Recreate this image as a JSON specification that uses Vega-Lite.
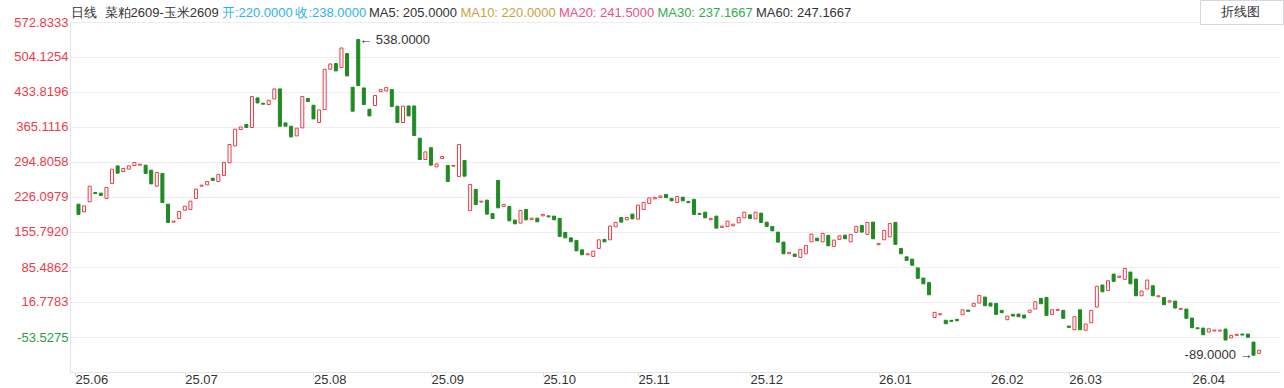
{
  "$schema": "https://vega.github.io/schema/vega-lite/v6.json",
  "width": 1210,
  "height": 350,
  "autosize": {"type": "none"},
  "padding": {"left": 70, "top": 22, "right": 4, "bottom": 16},
  "background": "#ffffff",
  "config": {"font": "Liberation Sans", "view": {"stroke": null}},
  "datasets": {
    "k": [
      {"i":0,"o":211.0,"c":190.6},{"i":1,"o":195.7,"c":207.6},{"i":2,"o":215.6,"c":246.7},{"i":3,"o":234.2,"c":232.3},{"i":4,"o":232.9,"c":228.3},
      {"i":5,"o":222.3,"c":244.2},{"i":6,"o":252.1,"c":280.5},{"i":7,"o":287.0,"c":272.5},{"i":8,"o":275.9,"c":281.9},{"i":9,"o":280.5,"c":287.0},
      {"i":10,"o":287.8,"c":293.8},{"i":11,"o":288.4,"c":290.4},{"i":12,"o":288.4,"c":272.0},{"i":13,"o":278.5,"c":251.3},{"i":14,"o":246.7,"c":273.9},
      {"i":15,"o":272.0,"c":214.4},{"i":16,"o":211.0,"c":174.7},{"i":17,"o":175.3,"c":177.3},{"i":18,"o":182.6,"c":196.5},{"i":19,"o":199.1,"c":207.1},
      {"i":20,"o":200.5,"c":217.0},{"i":21,"o":222.3,"c":240.8},{"i":22,"o":246.7,"c":248.7},{"i":23,"o":249.3,"c":256.1},{"i":24,"o":262.6,"c":258.1},
      {"i":25,"o":256.1,"c":270.0},{"i":26,"o":268.0,"c":293.8},{"i":27,"o":293.0,"c":329.5},{"i":28,"o":326.7,"c":359.9},{"i":29,"o":359.3,"c":364.4},
      {"i":30,"o":369.2,"c":363.3},{"i":31,"o":363.3,"c":424.8},{"i":32,"o":422.0,"c":412.1},{"i":33,"o":411.5,"c":409.5},{"i":34,"o":408.9,"c":417.4},
      {"i":35,"o":420.0,"c":439.9},{"i":36,"o":439.9,"c":365.8},{"i":37,"o":372.4,"c":365.8},{"i":38,"o":365.8,"c":344.6},{"i":39,"o":346.6,"c":361.9},
      {"i":40,"o":362.5,"c":424.8},{"i":41,"o":420.8,"c":414.9},{"i":42,"o":407.5,"c":380.3},{"i":43,"o":373.2,"c":398.2},{"i":44,"o":399.0,"c":479.0},
      {"i":45,"o":479.0,"c":489.5},{"i":46,"o":490.3,"c":475.6},{"i":47,"o":482.3,"c":521.2},{"i":48,"o":510.1,"c":465.7},{"i":49,"o":443.2,"c":395.6},
      {"i":50,"o":538.0,"c":446.6},{"i":51,"o":441.8,"c":408.9},{"i":52,"o":399.6,"c":386.3},{"i":53,"o":406.9,"c":426.8},{"i":54,"o":434.7,"c":438.7},
      {"i":55,"o":435.9,"c":442.6},{"i":56,"o":438.7,"c":404.9},{"i":57,"o":405.5,"c":373.2},{"i":58,"o":373.2,"c":405.5},{"i":59,"o":406.1,"c":386.3},
      {"i":60,"o":406.1,"c":347.4},{"i":61,"o":342.0,"c":299.7},{"i":62,"o":299.7,"c":314.8},{"i":63,"o":323.2,"c":288.4},{"i":64,"o":285.1,"c":291.0},
      {"i":65,"o":301.7,"c":305.7},{"i":66,"o":287.8,"c":256.1},{"i":67,"o":286.4,"c":287.8},{"i":68,"o":266.0,"c":329.5},{"i":69,"o":297.8,"c":266.6},
      {"i":70,"o":198.1,"c":250.1},{"i":71,"o":240.2,"c":210.0},{"i":72,"o":215.0,"c":217.0},{"i":73,"o":219.0,"c":191.2},{"i":74,"o":192.2,"c":182.6},
      {"i":75,"o":258.3,"c":203.7},{"i":76,"o":206.5,"c":210.4},{"i":77,"o":206.5,"c":177.9},{"i":78,"o":179.3,"c":171.9},{"i":79,"o":173.3,"c":198.5},
      {"i":80,"o":200.5,"c":179.9},{"i":81,"o":180.7,"c":183.2},{"i":82,"o":183.2,"c":175.9},{"i":83,"o":187.8,"c":190.6},{"i":84,"o":187.8,"c":185.8},
      {"i":85,"o":187.2,"c":179.9},{"i":86,"o":182.6,"c":146.9},{"i":87,"o":154.9,"c":144.1},{"i":88,"o":144.1,"c":136.2},{"i":89,"o":139.0,"c":118.3},
      {"i":90,"o":120.3,"c":110.4},{"i":91,"o":110.4,"c":112.4},{"i":92,"o":107.2,"c":117.7},{"i":93,"o":123.1,"c":140.2},{"i":94,"o":141.0,"c":136.2},
      {"i":95,"o":140.2,"c":167.4},{"i":96,"o":166.0,"c":174.7},{"i":97,"o":184.6,"c":175.3},{"i":98,"o":179.9,"c":184.6},{"i":99,"o":191.2,"c":181.8},
      {"i":100,"o":181.2,"c":209.0},{"i":101,"o":200.5,"c":214.4},{"i":102,"o":212.4,"c":223.5},{"i":103,"o":221.5,"c":224.5},{"i":104,"o":223.9,"c":227.3},
      {"i":105,"o":230.3,"c":223.9},{"i":106,"o":222.5,"c":217.6},{"i":107,"o":214.4,"c":226.3},{"i":108,"o":224.9,"c":217.6},{"i":109,"o":216.4,"c":214.0},
      {"i":110,"o":220.6,"c":190.6},{"i":111,"o":192.6,"c":190.6},{"i":112,"o":195.1,"c":183.8},{"i":113,"o":179.9,"c":182.6},{"i":114,"o":187.2,"c":163.4},
      {"i":115,"o":164.8,"c":167.4},{"i":116,"o":166.8,"c":177.3},{"i":117,"o":168.0,"c":171.3},{"i":118,"o":173.9,"c":184.6},{"i":119,"o":183.8,"c":195.1},
      {"i":120,"o":189.8,"c":182.6},{"i":121,"o":181.8,"c":195.1},{"i":122,"o":193.2,"c":174.7},{"i":123,"o":175.3,"c":166.8},{"i":124,"o":166.8,"c":158.0},
      {"i":125,"o":155.5,"c":135.6},{"i":126,"o":135.6,"c":112.4},{"i":127,"o":112.4,"c":115.2},{"i":128,"o":111.8,"c":107.2},{"i":129,"o":105.2,"c":121.1},
      {"i":130,"o":112.4,"c":129.1},{"i":131,"o":136.2,"c":151.5},{"i":132,"o":143.5,"c":138.2},{"i":133,"o":136.2,"c":152.9},{"i":134,"o":148.9,"c":128.3},
      {"i":135,"o":127.1,"c":139.6},{"i":136,"o":141.0,"c":148.1},{"i":137,"o":149.5,"c":142.2},{"i":138,"o":136.2,"c":150.9},{"i":139,"o":154.9,"c":166.8},
      {"i":140,"o":168.7,"c":155.5},{"i":141,"o":150.9,"c":174.7},{"i":142,"o":175.3,"c":142.2},{"i":143,"o":130.2,"c":133.0},{"i":144,"o":140.2,"c":158.8},
      {"i":145,"o":146.1,"c":172.7},{"i":146,"o":174.7,"c":131.0},{"i":147,"o":123.1,"c":112.4},{"i":148,"o":106.4,"c":99.3},{"i":149,"o":101.9,"c":89.6},
      {"i":150,"o":84.4,"c":63.6},{"i":151,"o":64.2,"c":52.8},{"i":152,"o":55.6,"c":31.0},{"i":153,"o":-14.2,"c":-3.9},{"i":154,"o":-8.7,"c":-6.7},
      {"i":155,"o":-19.6,"c":-26.5},{"i":156,"o":-19.8,"c":-21.8},{"i":157,"o":-17.8,"c":-20.6},{"i":158,"o":-8.7,"c":1.2},{"i":159,"o":0.6,"c":-1.9},
      {"i":160,"o":8.0,"c":13.9},{"i":161,"o":14.5,"c":29.8},{"i":162,"o":26.4,"c":9.2},{"i":163,"o":14.5,"c":8.6},{"i":164,"o":13.9,"c":-7.9},
      {"i":165,"o":0.1,"c":-4.7},{"i":166,"o":-18.6,"c":-11.3},{"i":167,"o":-7.9,"c":-11.3},{"i":168,"o":-7.3,"c":-12.6},{"i":169,"o":-9.3,"c":-15.2},
      {"i":170,"o":-3.9,"c":0.6},{"i":171,"o":2.6,"c":17.1},{"i":172,"o":23.9,"c":13.2},{"i":173,"o":25.8,"c":-9.9},{"i":174,"o":-7.9,"c":1.2},
      {"i":175,"o":0.1,"c":2.0},{"i":176,"o":0.1,"c":-15.8},{"i":177,"o":-31.1,"c":-33.7},{"i":178,"o":-38.5,"c":-12.6},{"i":179,"o":1.2,"c":-38.5},
      {"i":180,"o":-39.6,"c":-27.1},{"i":181,"o":-24.6,"c":0.1},{"i":182,"o":6.6,"c":47.7},{"i":183,"o":50.3,"c":37.0},{"i":184,"o":39.7,"c":58.8},
      {"i":185,"o":72.1,"c":57.6},{"i":186,"o":65.5,"c":68.1},{"i":187,"o":61.6,"c":83.4},{"i":188,"o":76.1,"c":52.8},{"i":189,"o":62.2,"c":29.0},
      {"i":190,"o":29.0,"c":38.4},{"i":191,"o":42.3,"c":60.2},{"i":192,"o":48.9,"c":29.0},{"i":193,"o":27.0,"c":29.0},{"i":194,"o":25.8,"c":11.2},
      {"i":195,"o":16.5,"c":19.1},{"i":196,"o":18.5,"c":4.6},{"i":197,"o":2.0,"c":4.0},{"i":198,"o":2.6,"c":-15.8},{"i":199,"o":-15.2,"c":-34.5},
      {"i":200,"o":-34.5,"c":-36.5},{"i":201,"o":-35.1,"c":-48.4},{"i":202,"o":-43.0,"c":-36.5},{"i":203,"o":-41.0,"c":-39.1},{"i":204,"o":-41.0,"c":-39.1},
      {"i":205,"o":-37.1,"c":-58.9},{"i":206,"o":-54.9,"c":-49.6},{"i":207,"o":-49.6,"c":-47.6},{"i":208,"o":-47.0,"c":-49.0},{"i":209,"o":-47.0,"c":-53.5},
      {"i":210,"o":-62.9,"c":-89.0},{"i":211,"o":-85.3,"c":-79.3}
    ],
    "hdr": [
      {"t":"日线\u00a0\u00a0菜粕2609-玉米2609"},{"t":"开:220.0000"},{"t":"收:238.0000"},{"t":"MA5: 205.0000"},
      {"t":"MA10: 220.0000"},{"t":"MA20: 241.5000"},{"t":"MA30: 237.1667"},{"t":"MA60: 247.1667"}
    ],
    "btn": [{"b": "折线图\u2800\u2800"}]
  },
  "layer": [
    {
      "data": {"name": "k"},
      "mark": {"type": "bar", "width": 3, "strokeWidth": 1},
      "encoding": {
        "x": {
          "field": "i", "type": "quantitative",
          "scale": {"domain": [-0.62, 213.84], "nice": false, "zero": false},
          "axis": {
            "title": null,
            "values": [-0.6, 19, 42, 63, 83, 100, 120, 143, 163, 177, 199],
            "tickCount": 40,
            "labelExpr": "datum.value<1?'25.06':datum.value==19?'25.07':datum.value==42?'25.08':datum.value==63?'25.09':datum.value==83?'25.10':datum.value==100?'25.11':datum.value==120?'25.12':datum.value==143?'26.01':datum.value==163?'26.02':datum.value==177?'26.03':'26.04'",
            "grid": false,
            "domainColor": "#e4e4ec",
            "tickColor": "#dcdce4",
            "tickSize": 4,
            "labelAlign": "left",
            "labelBaseline": "top",
            "labelPadding": -3,
            "labelFontSize": 13,
            "labelColor": "#333333",
            "labelFlush": false,
            "labelOverlap": false,
            "labelBound": false
          }
        },
        "y": {
          "field": "o", "type": "quantitative",
          "scale": {"domain": [-122.4, 572.8333], "nice": false, "zero": false},
          "axis": {
            "title": null,
            "values": [572.8333, 504.1254, 433.8196, 365.1116, 294.8058, 226.0979, 155.792, 85.4862, 16.7783, -53.5275],
            "tickCount": 30,
            "labelExpr": "datum.value < 0 ? '-' + format(-datum.value, '.4f') : format(datum.value, '.4f')",
            "labelOverlap": false,
            "labelBound": false,
            "labelFlush": false,
            "grid": true,
            "gridColor": "#ececf2",
            "domainColor": "#e4e4ec",
            "ticks": false,
            "labelPadding": 2,
            "labelFontSize": 13,
            "labelColor": {"condition": {"test": "datum.value < 0", "value": "#2a9d48"}, "value": "#ee3b49"}
          }
        },
        "y2": {"field": "c"},
        "fill": {"condition": {"test": "datum.c >= datum.o", "value": "#ffffff"}, "value": "#1e8b23"},
        "stroke": {"condition": {"test": "datum.c >= datum.o", "value": "#ec3a45"}, "value": "#1e8b23"}
      }
    },
    {
      "data": {"values": [{"i": 50, "v": 538, "t": "←\u00a0538.0000"}]},
      "mark": {"type": "text", "align": "left", "baseline": "middle", "dx": 1, "fontSize": 13, "color": "#333333"},
      "encoding": {
        "x": {"field": "i", "type": "quantitative"},
        "y": {"field": "v", "type": "quantitative"},
        "text": {"field": "t"}
      }
    },
    {
      "data": {"values": [{"i": 210, "v": -89, "t": "-89.0000\u00a0→"}]},
      "mark": {"type": "text", "align": "right", "baseline": "middle", "dx": -1, "fontSize": 13, "color": "#333333"},
      "encoding": {
        "x": {"field": "i", "type": "quantitative"},
        "y": {"field": "v", "type": "quantitative"},
        "text": {"field": "t"}
      }
    },
    {
      "data": {"name": "hdr"},
      "mark": {"type": "text", "opacity": 0},
      "encoding": {
        "text": {"field": "t"},
        "color": {
          "field": "t", "type": "nominal",
          "scale": {
            "domain": ["日线\u00a0\u00a0菜粕2609-玉米2609", "开:220.0000", "收:238.0000", "MA5: 205.0000", "MA10: 220.0000", "MA20: 241.5000", "MA30: 237.1667", "MA60: 247.1667"],
            "range": ["#333333", "#2bb3ef", "#2bb3ef", "#333333", "#c9a441", "#ef4f8b", "#35ad4b", "#333333"]
          },
          "legend": {
            "orient": "none",
            "legendX": 1.4,
            "legendY": -16,
            "direction": "horizontal",
            "title": null,
            "symbolSize": 0.01,
            "symbolOpacity": 0,
            "symbolStrokeWidth": 0,
            "labelOffset": -13,
            "columnPadding": 2.5,
            "labelFontSize": 13,
            "labelLimit": 400,
            "padding": 0,
            "encode": {"labels": {"update": {"fill": {"scale": "color", "field": "value"}}}}
          }
        }
      }
    },
    {
      "data": {"name": "btn"},
      "mark": {"type": "point", "opacity": 0},
      "encoding": {
        "shape": {
          "field": "b", "type": "nominal",
          "legend": {
            "orient": "none",
            "legendX": 1130,
            "legendY": -22,
            "title": null,
            "symbolSize": 324,
            "symbolType": "square",
            "symbolOpacity": 0,
            "symbolFillColor": "#ffffff",
            "symbolStrokeWidth": 0,
            "labelOffset": 0,
            "labelFontSize": 13,
            "labelColor": "#333333",
            "labelLimit": 200,
            "padding": 3,
            "strokeColor": "#d6d6e2",
            "fillColor": "#ffffff"
          }
        }
      }
    }
  ]
}
